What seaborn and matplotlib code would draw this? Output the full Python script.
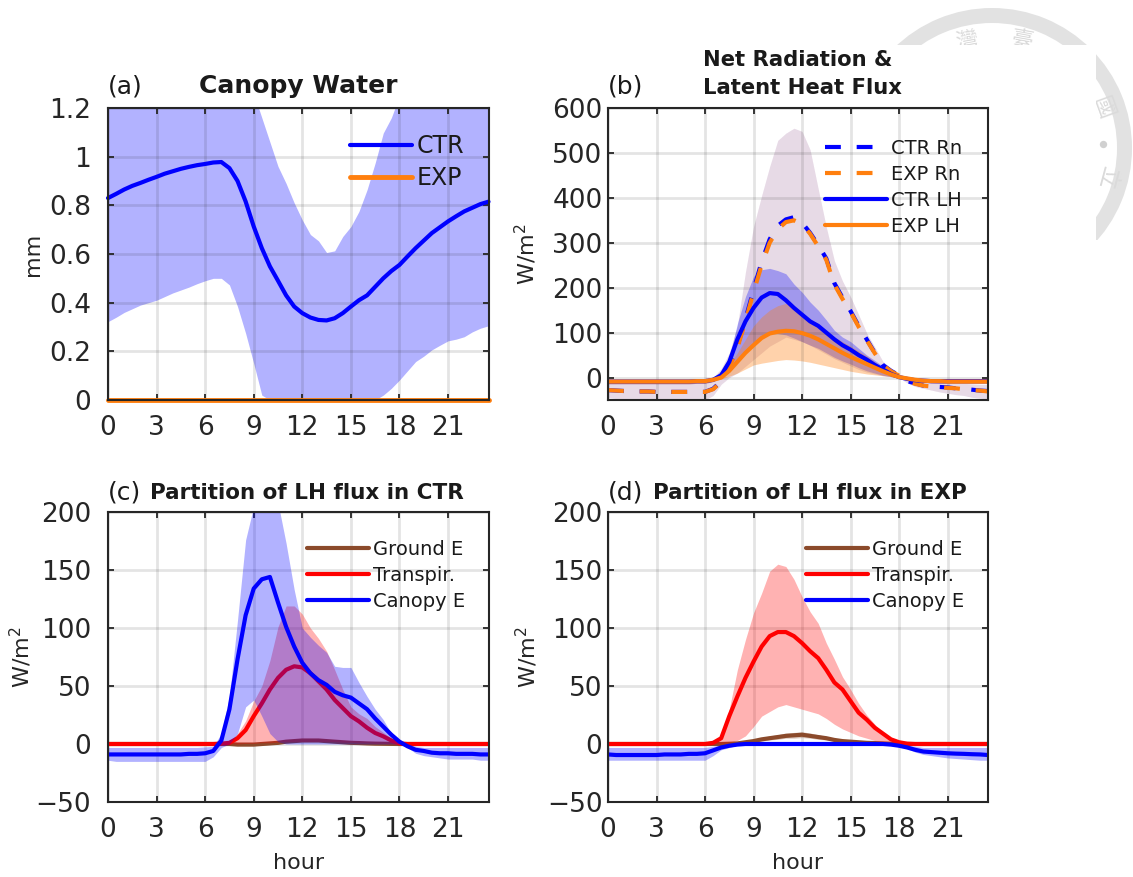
import numpy as np
import pandas as pd
import seaborn as sns
from matplotlib import pyplot as plt
from matplotlib.patches import Wedge, Rectangle

# half hourly diurnal composite
hours = [0, 0.5, 1, 1.5, 2, 2.5, 3, 3.5, 4, 4.5, 5, 5.5, 6,
         6.5, 7, 7.5, 8, 8.5, 9, 9.5, 10, 10.5, 11, 11.5, 12,
         12.5, 13, 13.5, 14, 14.5, 15, 15.5, 16, 16.5, 17, 17.5, 18,
         18.5, 19, 19.5, 20, 20.5, 21, 21.5, 22, 22.5, 23, 23.5]
xticks = [0, 3, 6, 9, 12, 15, 18, 21]

# (a) canopy water
cw_ctr = [.83, .847, .865, .88, .892, .905, .917, .93, .94, .95, .958, .965, .97,
          .976, .978, .953, .90, .816, .713, .624, .549, .49, .43, .384, .357,
          .339, .329, .327, .336, .357, .384, .41, .43, .465, .50, .53, .555,
          .59, .624, .655, .686, .71, .734, .755, .775, .79, .805, .815]
cw_ctr_hi = [1.32, 1.34, 1.36, 1.37, 1.38, 1.4, 1.41, 1.42, 1.43, 1.44, 1.45, 1.45, 1.46,
             1.46, 1.46, 1.42, 1.38, 1.32, 1.26, 1.16, 1.06, .96, .89, .81, .74,
             .68, .654, .606, .613, .672, .713, .775, .864, .974, 1.097, 1.16, 1.25,
             1.3, 1.35, 1.37, 1.38, 1.38, 1.37, 1.37, 1.36, 1.35, 1.33, 1.32]
cw_ctr_lo = [.322, .34, .36, .375, .39, .40, .41, .425, .44, .452, .464, .478, .49,
             .50, .50, .473, .384, .274, .15, .02, 0, 0, 0, 0, 0,
             0, 0, 0, 0, 0, 0, 0, 0, 0, .02, .048, .082,
             .12, .158, .18, .206, .225, .243, .25, .26, .28, .295, .305]
cw_exp = [0] * 48

# (b) net radiation and latent heat
rn_ctr = [-28, -29, -30, -31, -31, -31, -32, -32, -32, -32, -32, -32, -32,
          -25, -8, 25, 70, 130, 195, 258, 308, 338, 352, 357, 345,
          322, 295, 265, 210, 178, 148, 115, 85, 55, 28, 15, 5,
          -8, -13, -18, -20, -21, -22, -24, -25, -27, -29, -30]
rn_exp = [-28, -29, -30, -31, -31, -31, -32, -32, -32, -32, -32, -32, -32,
          -26, -10, 22, 66, 125, 190, 250, 300, 330, 346, 350, 342,
          320, 292, 262, 207, 175, 146, 113, 83, 54, 27, 14, 4,
          -8, -14, -18, -20, -21, -23, -24, -26, -28, -29, -31]
rn_hi = [-10, -10, -11, -11, -11, -11, -11, -11, -11, -11, -11, -11, -10,
         0, 20, 55, 115, 235, 336, 405, 470, 528, 544, 555, 548,
         507, 420, 335, 260, 215, 180, 140, 99, 68, 36, 20, 5,
         -1, -6, -8, -9, -10, -12, -13, -13, -14, -15, -15]
rn_lo = [-45, -47, -48, -50, -51, -52, -52, -52, -52, -52, -51, -51, -50,
         -40, -15, 0, 10, 25, 40, 55, 70, 80, 90, 85, 80,
         72, 62, 52, 42, 34, 26, 18, 12, 8, 4, 2, 0,
         -12, -20, -24, -28, -32, -35, -38, -40, -44, -46, -48]
lh_ctr = [-9, -9, -9, -9, -9, -9, -9, -9, -9, -9, -9, -8, -8,
          -5, 5, 35, 85, 125, 155, 178, 188, 186, 172, 155, 140,
          125, 115, 100, 85, 72, 62, 50, 40, 28, 18, 8, 1,
          -3, -6, -7, -8, -8, -8, -8, -8, -8, -8, -8]
lh_ctr_hi = [-4, -4, -4, -4, -4, -4, -4, -4, -4, -4, -4, -4, -3,
             0, 15, 45, 120, 180, 225, 240, 243, 238, 231, 208, 190,
             168, 150, 128, 105, 90, 80, 65, 50, 38, 25, 12, 4,
             -1, -3, -4, -4, -4, -4, -4, -4, -4, -4, -4]
lh_ctr_lo = [-14, -14, -14, -14, -14, -14, -14, -14, -14, -14, -14, -13, -13,
             -9, 0, 18, 40, 58, 75, 90, 100, 98, 95, 88, 80,
             72, 65, 55, 45, 37, 30, 22, 15, 10, 5, 2, -1,
             -6, -9, -11, -12, -13, -13, -13, -13, -13, -13, -13]
lh_exp = [-9, -9, -9, -9, -9, -9, -9, -9, -9, -9, -9, -8, -8,
          -5, 0, 15, 35, 55, 72, 88, 98, 102, 104, 103, 99,
          93, 85, 75, 65, 55, 46, 38, 30, 22, 14, 7, 1,
          -2, -5, -7, -8, -8, -9, -9, -9, -9, -9, -9]
lh_exp_hi = [-4, -4, -4, -4, -4, -4, -4, -4, -4, -4, -4, -4, -3,
             -1, 8, 28, 55, 85, 115, 135, 150, 160, 165, 160, 145,
             130, 115, 102, 90, 80, 70, 59, 48, 35, 20, 10, 3,
             0, -2, -3, -4, -4, -4, -4, -4, -4, -4, -4]
lh_exp_lo = [-14, -14, -14, -14, -14, -14, -14, -14, -14, -14, -14, -13, -13,
             -9, -3, 3, 10, 19, 28, 32, 35, 38, 40, 39, 37,
             34, 30, 26, 22, 18, 14, 11, 8, 6, 4, 2, -1,
             -5, -8, -10, -11, -12, -13, -13, -13, -13, -13, -13]

# (c) partition in CTR
c_ground = [0, 0, 0, 0, 0, 0, 0, 0, 0, 0, 0, 0, 0,
            0, 0, 0, -.5, -.5, -.5, 0, .5, 1, 2, 2.5, 3,
            3, 3, 2.5, 2, 1.5, 1, .8, .5, .3, .2, .1, 0,
            0, 0, 0, 0, 0, 0, 0, 0, 0, 0, 0]
c_ground_hi = [v + 1 for v in c_ground]
c_ground_lo = [v - 1 for v in c_ground]
c_transp = [0, 0, 0, 0, 0, 0, 0, 0, 0, 0, 0, 0, 0,
            0, .3, 1, 5, 12, 24, 35, 47, 57, 64, 67, 66,
            61, 54, 47, 38, 31, 24, 19.5, 14, 9.5, 6.6, 3, .5,
            0, 0, 0, 0, 0, 0, 0, 0, 0, 0, 0]
c_transp_hi = [1, 1, 1, 1, 1, 1, 1, 1, 1, 1, 1, 1, 1,
               1, 1, 2, 9, 20, 37, 50, 72, 101, 119, 119, 112,
               100, 91, 80, 64, 47, 32, 26, 22, 15, 10, 5, 1,
               1, 1, 1, 1, 1, 1, 1, 1, 1, 1, 1]
c_transp_lo = [-1, -1, -1, -1, -1, -1, -1, -1, -1, -1, -1, -1, -1,
               -1, -.5, 0, 0, .5, .5, 1, 1, 1.5, 2, 2, 2,
               2, 2, 2, 2, 1.5, 1.5, 1, 1, .5, .5, 0, 0,
               -1, -1, -1, -1, -1, -1, -1, -1, -1, -1, -1]
c_canopy = [-9, -9, -9, -9, -9, -9, -9, -9, -9, -9, -8.5, -8.5, -8,
            -6, 3, 30, 73, 111, 134, 142, 144, 122, 101, 84, 70,
            61, 55, 51, 45, 42, 40, 35, 30, 22, 15, 8, 2,
            -2, -5, -6, -7.5, -8, -8, -8.5, -8.5, -8.5, -9, -9]
c_canopy_hi = [-3, -3, -3, -3, -3, -3, -3, -3, -3, -3, -3, -3, -2.5,
               -2, 9, 41, 107, 176, 205, 225, 225, 208, 173, 133, 100,
               92, 85, 79, 67, 66, 66, 53, 41, 30, 21, 9, 3,
               0, -2, -3, -3, -3, -3, -3, -3, -3, -3, -3]
c_canopy_lo = [-14, -15, -15, -15, -15, -15, -15, -15, -15, -15, -15, -15, -15,
               -11, -3, 0, 9, 32, 38, 24, 9, 2, 0, 0, 0,
               0, 0, 0, 0, 0, 0, 0, 0, 0, 0, 0, 0,
               -3, -8, -10, -11, -12, -13, -13, -13, -13, -14, -14]

# (d) partition in EXP
d_ground = [0, 0, 0, 0, 0, 0, 0, 0, 0, 0, 0, 0, 0,
            0, 0, .2, .5, 1.5, 2.5, 4, 5, 6, 7, 7.5, 8,
            7, 6, 5, 3.5, 2.5, 2, 1.5, 1, .8, .5, .2, 0,
            0, 0, 0, 0, 0, 0, 0, 0, 0, 0, 0]
d_ground_hi = [1, 1, 1, 1, 1, 1, 1, 1, 1, 1, 1, 1, 1,
               1, 1, 1, 1.5, 2.5, 4, 5.5, 7, 8, 9.5, 10, 10.5,
               9.5, 8, 6.5, 5, 4, 3, 2.5, 2, 1.5, 1, .5, 0,
               0, 0, 0, 0, 0, 0, 0, 0, 0, 0, 0]
d_ground_lo = [0, 0, 0, 0, 0, 0, 0, 0, 0, 0, 0, 0, 0,
               0, 0, 0, 0, .5, 1, 2.5, 3.5, 4, 5, 5, 5.5,
               5, 4, 3.5, 2.5, 1.5, 1, .8, .5, .3, 0, 0, 0,
               0, 0, 0, 0, 0, 0, 0, 0, 0, 0, 0]
d_transp = [0, 0, 0, 0, 0, 0, 0, 0, 0, 0, 0, 0, 0,
            1, 5, 24, 41, 57, 71, 84, 93, 96.5, 96.5, 93, 87,
            80, 74, 64, 53, 47, 37, 27, 21, 14, 9, 4, 1.5,
            .3, 0, 0, 0, 0, 0, 0, 0, 0, 0, 0]
d_transp_hi = [1, 1, 1, 1, 1, 1, 1, 1, 1, 1, 1, 1, 1,
               2, 6, 30, 64, 90, 113, 130, 149, 155, 153, 142, 127,
               114, 104, 87, 73, 58, 47, 35, 25, 17, 10, 5, 2,
               1, 1, 1, 1, 1, 1, 1, 1, 1, 1, 1]
d_transp_lo = [-1, -1, -1, -1, -1, -1, -1, -1, -1, -1, -1, -1, -1,
               0, 0, 1, 3, 7, 15, 24, 28, 32, 34, 32, 30,
               28, 26, 22, 17, 13, 10, 7, 5, 3, 1, .5, 0,
               -1, -1, -1, -1, -1, -1, -1, -1, -1, -1, -1]
d_canopy = [-9, -9.5, -9.5, -9.5, -9.5, -9.5, -9.5, -9, -9, -9, -8.5, -8.5, -8,
            -5.5, -3, -1.5, -.5, 0, 0, 0, 0, 0, 0, 0, 0,
            0, 0, 0, 0, 0, 0, 0, 0, 0, 0, -.5, -1.5,
            -3, -5, -6.5, -7, -7.5, -8, -8.3, -8.5, -8.8, -9, -9.5]
d_canopy_hi = [-3, -3, -3, -3, -3, -3, -3, -3, -3, -3, -3, -3, -3,
               -2, -1, -.5, 0, .5, .5, .5, .5, .5, .5, .5, .5,
               .5, .5, .5, .5, .5, .5, .5, .5, .5, .5, 0, -.5,
               -1, -2, -3, -3, -3, -3, -3, -3, -3, -3, -3]
d_canopy_lo = [-14, -14, -14, -14, -14, -14, -14, -14, -14, -14, -14, -14, -14,
               -10, -5, -3, -1, -.5, -.5, -.5, -.5, -.5, -.5, -.5, -.5,
               -.5, -.5, -.5, -.5, -.5, -.5, -.5, -.5, -.5, -.5, -1, -2,
               -4, -7, -9, -10, -11, -12, -12.5, -13, -13.5, -14, -14]

BLUE = "#0000FF"
ORANGE = "#FF7F0E"
RED = "#FF0000"
BROWN = "#8B4A2B"
W, H = 1133, 877

sns.set_theme(style="ticks", font="DejaVu Sans")
plt.rcParams["axes.edgecolor"] = "#262626"
plt.rcParams["text.color"] = "#1a1a1a"

fig = plt.figure(figsize=(W / 100, H / 100), dpi=100)


def px_axes(left, top, right, bottom):
    return fig.add_axes([left / W, 1 - bottom / H, (right - left) / W, (bottom - top) / H])


def band(ax, lo, hi, color, alpha=0.3, z=1):
    ax.fill_between(hours, lo, hi, color=color, alpha=alpha, lw=0, zorder=z)


def curve(ax, y, color, label, ls="-", lw=3.0, z=3):
    df = pd.DataFrame({"hour": hours, "y": y})
    sns.lineplot(data=df, x="hour", y="y", color=color, lw=lw, ls=ls, label=label,
                 ax=ax, zorder=z, errorbar=None, solid_joinstyle="round")


def finish(ax, ylim, yticks, ylabels, ylabel, ypad, ylabelpad, xlabel=None):
    ax.set_xlim(0, 23.5)
    ax.set_ylim(*ylim)
    ax.set_xticks(xticks)
    ax.set_yticks(yticks)
    ax.set_yticklabels(ylabels)
    ax.tick_params(direction="in", length=4, width=1.3, labelsize=19,
                   colors="#262626", top=True, right=True)
    ax.tick_params(axis="x", pad=11)
    ax.tick_params(axis="y", pad=ypad)
    ax.grid(True, color="#262626", alpha=0.12, lw=2)
    ax.set_axisbelow(False)
    for s in ax.spines.values():
        s.set_linewidth(1.5)
        s.set_zorder(9)
    ax.set_ylabel(ylabel, fontsize=16, labelpad=ylabelpad)
    ax.set_xlabel(xlabel if xlabel else "", fontsize=16, labelpad=7)


def legend(ax, anchor, size, handlelen, spacing):
    leg = ax.legend(loc="upper left", bbox_to_anchor=anchor, bbox_transform=ax.transAxes,
                    frameon=False, fontsize=size, handlelength=handlelen,
                    labelspacing=spacing, handletextpad=0.2, borderpad=0, borderaxespad=0)
    leg.set_zorder(10)


# seal watermark behind the panels, cut by a white block as in the scan
wm = fig.add_axes([0, 0, 1, 1], zorder=-2)
wm.set_xlim(0, W)
wm.set_ylim(H, 0)
wm.axis("off")
wm.add_patch(Wedge((992, 148), 140, 0, 360, width=15, color="#E2E2E2", lw=0, zorder=1))
for gx, gy, glyph, rot in [(967, 41, "灣", 10), (1022, 41, "臺", -10), (1103, 108, "國", -70), (1107, 178, "立", -105)]:
    wm.text(gx, gy, glyph, fontsize=16, color="#DADADA", ha="center", va="center", rotation=rot,
            family="Noto Sans CJK TC", zorder=1)
wm.scatter([1103], [144], s=28, color="#D0D0D0", lw=0, zorder=1)
wm.add_patch(Rectangle((0, 45), 1096, H, color="white", lw=0, zorder=2))
wm.add_patch(Rectangle((0, 240), W, H, color="white", lw=0, zorder=2))

# panel a
ax = px_axes(108, 108, 488.5, 400)
band(ax, cw_ctr_lo, cw_ctr_hi, BLUE)
curve(ax, cw_ctr, BLUE, "CTR")
curve(ax, cw_exp, ORANGE, "EXP", lw=3.5, z=5)
for line in ax.get_lines():
    line.set_clip_on(False)
finish(ax, (0, 1.2), [0, .2, .4, .6, .8, 1, 1.2], ["0", "0.2", "0.4", "0.6", "0.8", "1", "1.2"], "mm", 12, 4.5)
legend(ax, (0.635, 0.91), 17, 2.65, 0.32)
ax.text(0, 1.05, "(a)", transform=ax.transAxes, fontsize=18)
ax.text(0.5, 1.05, "Canopy Water", transform=ax.transAxes, fontsize=18, weight="bold", ha="center")

# panel b
ax = px_axes(608, 108, 988, 400)
band(ax, rn_lo, rn_hi, BLUE, 0.1)
band(ax, rn_lo, rn_hi, ORANGE, 0.1)
band(ax, lh_ctr_lo, lh_ctr_hi, BLUE, 0.3)
band(ax, lh_exp_lo, lh_exp_hi, ORANGE, 0.35)
curve(ax, rn_ctr, BLUE, "CTR Rn", ls=(0, (3.8, 3.8)))
curve(ax, rn_exp, ORANGE, "EXP Rn", ls=(0, (3.8, 3.8)))
curve(ax, lh_ctr, BLUE, "CTR LH")
curve(ax, lh_exp, ORANGE, "EXP LH")
finish(ax, (-50, 600), list(range(0, 700, 100)), [str(v) for v in range(0, 700, 100)], "W/m$^2$", 4, 9.5)
legend(ax, (0.57, 0.895), 14, 3.2, 0.36)
ax.text(0, 1.05, "(b)", transform=ax.transAxes, fontsize=18)
ax.text(0.25, 1.047, "Net Radiation &\nLatent Heat Flux", transform=ax.transAxes, fontsize=15.2,
        weight="bold", linespacing=1.5)

# panel c, each band sits over the lines drawn before it
ax = px_axes(108, 512, 488.5, 802)
band(ax, c_ground_lo, c_ground_hi, BROWN, z=3)
curve(ax, c_ground, BROWN, "Ground E", z=3.1)
band(ax, c_transp_lo, c_transp_hi, RED, z=3.2)
curve(ax, c_transp, RED, "Transpir.", z=3.3)
band(ax, c_canopy_lo, c_canopy_hi, BLUE, z=3.4)
curve(ax, c_canopy, BLUE, "Canopy E", z=3.5)
finish(ax, (-50, 200), [-50, 0, 50, 100, 150, 200], ["\u221250", "0", "50", "100", "150", "200"], "W/m$^2$", 12, 1, "hour")
legend(ax, (0.523, 0.905), 14, 3.2, 0.36)
ax.text(0, 1.044, "(c)", transform=ax.transAxes, fontsize=18)
ax.text(0.11, 1.044, "Partition of LH flux in CTR", transform=ax.transAxes, fontsize=15.5, weight="bold")

# panel d
ax = px_axes(608, 512, 988, 802)
band(ax, d_ground_lo, d_ground_hi, BROWN, z=3)
curve(ax, d_ground, BROWN, "Ground E", z=3.1)
band(ax, d_transp_lo, d_transp_hi, RED, z=3.2)
curve(ax, d_transp, RED, "Transpir.", z=3.3)
band(ax, d_canopy_lo, d_canopy_hi, BLUE, z=3.4)
curve(ax, d_canopy, BLUE, "Canopy E", z=3.5)
finish(ax, (-50, 200), [-50, 0, 50, 100, 150, 200], ["\u221250", "0", "50", "100", "150", "200"], "W/m$^2$", 4, 5, "hour")
legend(ax, (0.521, 0.905), 14, 3.2, 0.36)
ax.text(0, 1.044, "(d)", transform=ax.transAxes, fontsize=18)
ax.text(0.118, 1.044, "Partition of LH flux in EXP", transform=ax.transAxes, fontsize=15.5, weight="bold")

fig.savefig("out.png", dpi=100, facecolor="white")
